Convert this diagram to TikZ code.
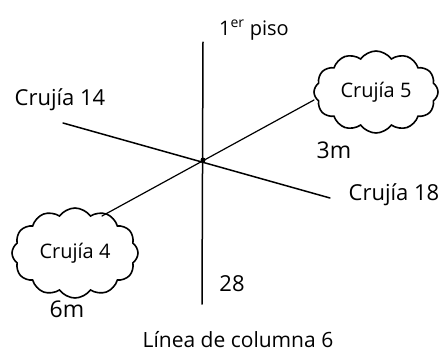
\documentclass[tikz,border=0pt]{standalone}
\usepackage{fontspec}
\setmainfont{Open Sans}
\usetikzlibrary{shapes.symbols}

\begin{document}
\begin{tikzpicture}[x=1pt,y=-1pt,line cap=round,line width=1.5pt,
  lbl/.style={font=\fontsize{#1}{#1}\selectfont,inner sep=1pt},
  lbl/.default=22,
  nube/.style={cloud,cloud puffs=12,cloud puff arc=110,cloud ignores aspect,
    draw,line width=1.6pt,minimum width=124pt,minimum height=82pt,inner sep=1pt,
    font=\fontsize{20}{20}\selectfont}]
\useasboundingbox (0,0) rectangle (447,360);
% ejes
\coordinate (arriba) at (203,42);
\coordinate (abajo) at (202,304);
\coordinate (centro) at (203,160);
\coordinate (izq) at (63,123);
\coordinate (der) at (330,198);
\draw (arriba) -- (abajo);
\draw (izq) -- (der);
\fill (centro) circle (2.5pt);
% crujias
\node[nube] (c5) at (376,92) {Crujía 5};
\node[nube,minimum width=126pt,minimum height=90pt] (c4) at (75,253) {Crujía 4};
\coordinate (ne) at (314,100);
\coordinate (so) at (102,216);
\draw[line width=1.2pt] (so) -- (ne);
\node[lbl=20] (piso) at (254,30) {1\textsuperscript{er} piso};
\node[lbl] (c14) at (60,100) {Crujía 14};
\node[lbl] (c18) at (394,195) {Crujía 18};
\node[lbl=23] (tres) at (334,150) {3m};
\node[lbl=23] (seis) at (67,309) {6m};
\node[lbl] (veinte) at (232,284) {28};
\node[lbl=21] (linea) at (238,340) {Línea de columna 6};
\end{tikzpicture}
\end{document}
